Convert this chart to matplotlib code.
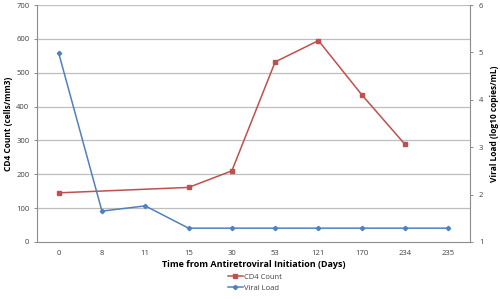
import matplotlib
matplotlib.use("Agg")
import matplotlib.pyplot as plt
import numpy as np

days = ["0", "8", "11", "15", "30", "53", "121", "170", "234", "235"]
cd4 = [145, None, None, 161, 210, 532, 595, 435, 288, None]
viral = [4.99, 1.65, 1.76, 1.29, 1.29, 1.29, 1.29, 1.29, 1.29, 1.29]

plt.rcParams['font.family'] = ['Open Sans', 'DejaVu Sans']

red = "#C0504D"
blue = "#4F81BD"
grid_col = "#BEBEBE"
axis_col = "#8C8C8C"
txt_col = "#404040"

fig = plt.figure(figsize=(5, 2.99), dpi=100)
ax = fig.add_axes([0.074, 0.191, 0.866, 0.792])
ax2 = ax.twinx()

x = np.arange(len(days))
cd4_x = [i for i, v in enumerate(cd4) if v is not None]
cd4_y = [v for v in cd4 if v is not None]

l1, = ax.plot(cd4_x, cd4_y, color=red, marker="s", markersize=3.2, lw=1.1, label="CD4 Count")
l2, = ax2.plot(x, viral, color=blue, marker="D", markersize=2.2, lw=1.1, label="Viral Load")

ax.set_xlim(-0.5, len(days) - 0.5)
ax.set_ylim(0, 700)
ax.set_yticks(range(0, 701, 100))
ax2.set_ylim(1, 6)
ax2.set_yticks(range(1, 7))
ax.set_xticks(x)
ax.set_xticklabels(days)

for y in range(100, 701, 100):
    ax.axhline(y, color=grid_col, lw=0.9, zorder=0)

for a in (ax, ax2):
    a.spines['top'].set_visible(False)
    for s in ('left', 'right', 'bottom'):
        a.spines[s].set_color(axis_col)
        a.spines[s].set_linewidth(0.8)
    a.tick_params(labelsize=5.5, colors=txt_col, length=2.5, width=0.7, color=axis_col, pad=3)
ax.tick_params(axis='x', length=0, pad=6)
ax2.tick_params(axis='y', pad=4)
ax.spines['right'].set_visible(False)
ax2.spines['left'].set_visible(False)
ax2.spines['bottom'].set_visible(False)

ax.set_ylabel("CD4 Count (cells/mm3)", fontsize=6, fontweight="bold", labelpad=2)
ax2.set_ylabel("Viral Load (log10 copies/mL)", fontsize=6, fontweight="bold", rotation=90, labelpad=5)
ax.set_xlabel("Time from Antiretroviral Initiation (Days)", fontsize=6.5, fontweight="bold", labelpad=2)

fig.legend(handles=[l1, l2], loc="upper left", bbox_to_anchor=(0.455, 0.085), frameon=False,
           fontsize=5.5, handlelength=2.0, handletextpad=0.2, labelspacing=0.5,
           borderaxespad=0, borderpad=0, labelcolor=txt_col)

fig.savefig("out.png", dpi=100)
